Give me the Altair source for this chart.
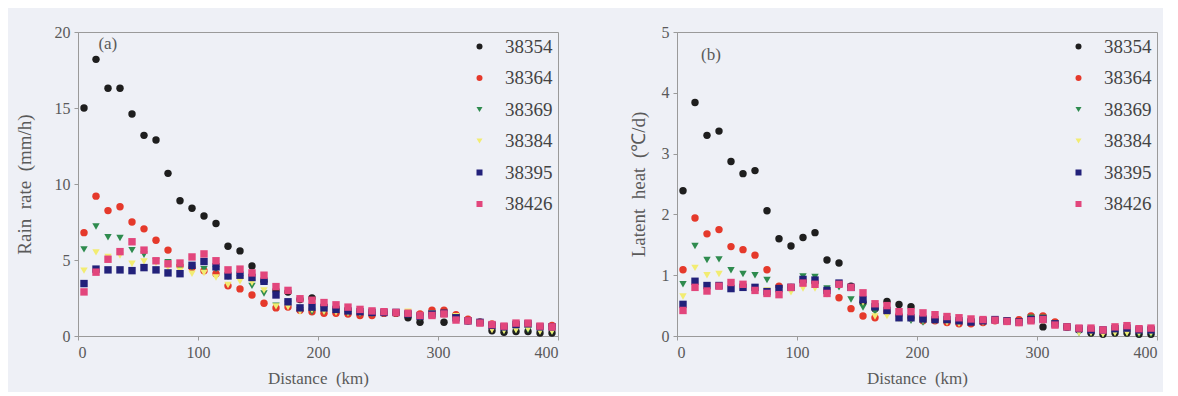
import altair as alt
import pandas as pd

distance = [5, 15, 25, 35, 45, 55, 65, 75, 85, 95, 105, 115, 125, 135, 145, 155, 165, 175, 185, 195,
            205, 215, 225, 235, 245, 255, 265, 275, 285, 295, 305, 315, 325, 335, 345, 355, 365, 375, 385, 395]
stations = ["38354", "38364", "38369", "38384", "38395", "38426"]

rain_38354 = [15.0, 18.2, 16.3, 16.3, 14.6, 13.2, 12.9, 10.7, 8.9, 8.4, 7.9, 7.4, 5.9, 5.6, 4.6, 3.6, 3.0, 2.9, 2.4, 2.5,
              2.0, 1.8, 1.7, 1.6, 1.5, 1.5, 1.5, 1.2, 0.9, 1.5, 0.9, 1.3, 1.0, 0.9, 0.35, 0.25, 0.3, 0.3, 0.2, 0.2]
rain_38364 = [6.8, 9.2, 8.25, 8.5, 7.5, 7.05, 6.3, 5.65, 4.6, 4.5, 4.3, 4.1, 3.3, 3.1, 2.7, 2.15, 1.85, 1.9, 1.7, 1.6,
              1.5, 1.5, 1.45, 1.35, 1.35, 1.5, 1.5, 1.5, 1.45, 1.7, 1.7, 1.4, 1.1, 0.9, 0.8, 0.6, 0.75, 0.8, 0.6, 0.7]
rain_38369 = [5.7, 7.2, 6.5, 6.45, 5.65, 5.35, 4.9, 4.85, 4.5, 4.5, 4.4, 4.4, 3.9, 3.8, 3.3, 2.8, 2.0, 2.1, 1.7, 1.6,
              1.6, 1.65, 1.5, 1.45, 1.45, 1.5, 1.5, 1.4, 1.2, 1.5, 1.5, 1.3, 1.0, 0.9, 0.5, 0.35, 0.4, 0.4, 0.3, 0.3]
rain_38384 = [4.3, 5.5, 5.2, 5.3, 4.75, 4.9, 4.8, 4.5, 4.3, 4.1, 4.15, 3.85, 3.35, 3.6, 3.5, 3.0, 1.95, 1.9, 1.6, 1.7,
              1.6, 1.55, 1.5, 1.5, 1.5, 1.5, 1.5, 1.6, 1.3, 1.5, 1.4, 1.3, 1.0, 0.9, 0.4, 0.35, 0.4, 0.45, 0.3, 0.3]
rain_38395 = [3.45, 4.4, 4.35, 4.35, 4.3, 4.5, 4.35, 4.15, 4.1, 4.65, 4.9, 4.55, 3.95, 4.0, 3.85, 3.6, 2.7, 2.25, 1.85, 1.9,
              1.85, 1.75, 1.65, 1.6, 1.55, 1.55, 1.55, 1.45, 1.3, 1.45, 1.5, 1.2, 1.0, 0.9, 0.7, 0.6, 0.75, 0.8, 0.6, 0.6]
rain_38426 = [2.9, 4.2, 5.05, 5.55, 6.2, 5.65, 4.95, 4.75, 4.8, 5.2, 5.4, 4.95, 4.35, 4.4, 4.15, 4.0, 3.25, 3.0, 2.45, 2.35,
              2.2, 2.05, 1.9, 1.75, 1.65, 1.6, 1.55, 1.5, 1.35, 1.35, 1.45, 1.05, 1.0, 0.85, 0.75, 0.65, 0.85, 0.85, 0.65, 0.6]

heat_38354 = [2.39, 3.84, 3.30, 3.37, 2.87, 2.67, 2.72, 2.06, 1.60, 1.48, 1.62, 1.70, 1.25, 1.20, 0.82, 0.55, 0.45, 0.57, 0.52, 0.48,
              0.3, 0.28, 0.25, 0.25, 0.25, 0.25, 0.27, 0.25, 0.25, 0.3, 0.15, 0.22, 0.15, 0.1, 0.05, 0.03, 0.05, 0.05, 0.03, 0.03]
heat_38364 = [1.09, 1.94, 1.68, 1.75, 1.47, 1.42, 1.33, 1.09, 0.82, 0.8, 0.9, 0.88, 0.75, 0.63, 0.45, 0.33, 0.3, 0.4, 0.35, 0.3,
              0.25, 0.25, 0.22, 0.2, 0.2, 0.22, 0.25, 0.25, 0.27, 0.33, 0.33, 0.23, 0.15, 0.12, 0.1, 0.08, 0.12, 0.12, 0.1, 0.12]
heat_38369 = [0.85, 1.48, 1.25, 1.26, 1.08, 1.02, 1.0, 0.92, 0.75, 0.8, 0.98, 0.97, 0.78, 0.8, 0.6, 0.47, 0.4, 0.4, 0.3, 0.25,
              0.22, 0.25, 0.25, 0.22, 0.22, 0.25, 0.25, 0.25, 0.22, 0.3, 0.3, 0.2, 0.13, 0.05, 0.05, 0.03, 0.05, 0.05, 0.03, 0.03]
heat_38384 = [0.65, 1.12, 1.0, 1.02, 0.85, 0.82, 0.8, 0.75, 0.72, 0.72, 0.78, 0.78, 0.68, 0.85, 0.8, 0.55, 0.32, 0.33, 0.28, 0.28,
              0.25, 0.25, 0.22, 0.2, 0.22, 0.22, 0.25, 0.22, 0.2, 0.25, 0.25, 0.2, 0.15, 0.05, 0.05, 0.03, 0.05, 0.05, 0.05, 0.05]
heat_38395 = [0.52, 0.9, 0.83, 0.83, 0.78, 0.8, 0.8, 0.73, 0.78, 0.8, 0.93, 0.92, 0.75, 0.87, 0.8, 0.6, 0.48, 0.42, 0.3, 0.3,
              0.28, 0.27, 0.27, 0.25, 0.23, 0.25, 0.27, 0.25, 0.23, 0.27, 0.28, 0.2, 0.15, 0.12, 0.1, 0.1, 0.12, 0.13, 0.1, 0.1]
heat_38426 = [0.42, 0.8, 0.74, 0.82, 0.88, 0.85, 0.75, 0.7, 0.68, 0.8, 0.87, 0.85, 0.7, 0.85, 0.8, 0.71, 0.53, 0.5, 0.4, 0.4,
              0.38, 0.35, 0.32, 0.3, 0.28, 0.27, 0.26, 0.24, 0.22, 0.25, 0.27, 0.18, 0.15, 0.13, 0.13, 0.1, 0.15, 0.17, 0.12, 0.13]

colors = ["#1e1e1e", "#e5392b", "#2e8b4e", "#f2ec72", "#22217a", "#e2467c"]
shapes = ["circle", "circle", "triangle-down", "triangle-down", "square", "square"]

rain = [rain_38354, rain_38364, rain_38369, rain_38384, rain_38395, rain_38426]
heat = [heat_38354, heat_38364, heat_38369, heat_38384, heat_38395, heat_38426]


def long_df(series):
    rows = []
    for k, (st, vals) in enumerate(zip(stations, series)):
        for d, v in zip(distance, vals):
            rows.append({"distance": d, "value": v, "station": st, "order": k})
    return pd.DataFrame(rows)


FONT = "Liberation Serif"
GRAY = "#5a5a5a"
SP = " \u00a0"


def panel(df, ymax, ytitle, tpad, label, lx, ly):
    base = alt.Chart(df).mark_point(filled=True, size=55, opacity=1).encode(
        x=alt.X("distance:Q", scale=alt.Scale(domain=[0, 400], nice=False),
                axis=alt.Axis(values=[0, 100, 200, 300, 400], title="Distance\u00a0\u00a0(km)")),
        y=alt.Y("value:Q", scale=alt.Scale(domain=[0, ymax], nice=False),
                axis=alt.Axis(tickCount=5, title=ytitle, titlePadding=tpad, titleFontSize=19)),
        color=alt.Color("station:N", scale=alt.Scale(domain=stations, range=colors),
                        legend=alt.Legend(title=None, orient="top-right", offset=5,
                                          symbolSize=36, labelFontSize=19, rowPadding=11.5,
                                          labelFont=FONT, labelColor="#444", labelOffset=16)),
        shape=alt.Shape("station:N", scale=alt.Scale(domain=stations, range=shapes)),
        order=alt.Order("order:Q"),
    )
    txt = alt.Chart(pd.DataFrame({"x": [lx], "y": [ly], "t": [label]})).mark_text(
        font=FONT, fontSize=17, color=GRAY, align="left").encode(
        x="x:Q", y="y:Q", text="t:N")
    return alt.layer(base, txt).properties(width=480, height=304)


left = panel(long_df(rain), 20, "Rain" + SP + "rate" + SP + "(mm/h)", 20, "(a)", 17, 19.2)
right = panel(long_df(heat), 5, "Latent" + SP + "heat" + SP + "(\u2103/d)", 13, "(b)", 20, 4.62)

chart = alt.hconcat(left, right, spacing=69).resolve_scale(
    color="independent", shape="independent"
).properties(
    background="#eef0f6",
    padding={"left": 6, "top": 15, "right": 5, "bottom": 5},
).configure_view(stroke="#9a9a9a", strokeWidth=1).configure_axis(
    grid=False, domainColor="#9a9a9a", tickColor="#9a9a9a", tickSize=4,
    labelFont=FONT, labelFontSize=16, labelColor=GRAY, titleFont=FONT,
    titleFontSize=17, titleFontWeight="normal", titleColor=GRAY, labelPadding=4,
).configure_axisX(titlePadding=10)

chart.save("out.html", embed_options={"renderer": "svg", "actions": False})
